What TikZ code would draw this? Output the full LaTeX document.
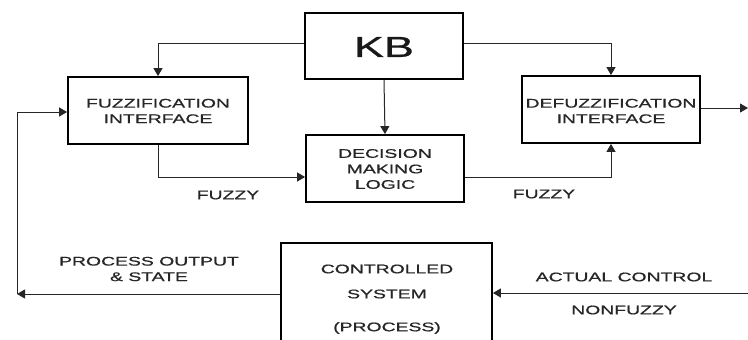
\documentclass[tikz,border=0pt]{standalone}
\usepackage{fontspec}
\newfontfamily\diagfont[FakeStretch=1.55,FakeBold=0.8]{Liberation Sans}
\usetikzlibrary{arrows.meta}
\tikzset{
  blk/.style={draw=black, line width=1.8pt, inner sep=0pt, fill=none},
  conn/.style={draw=black!85, line width=1pt, -{Triangle[length=8pt,width=9pt]}},
  txt/.style={font=\diagfont\fontsize{12.5}{15.5}\selectfont, text=black!85, align=center, inner sep=0pt},
  bigtxt/.style={font=\diagfont\fontsize{29}{33}\selectfont, text=black!90, inner sep=0pt}
}
\begin{document}
\begin{tikzpicture}[x=1pt,y=-1pt]
\useasboundingbox (0,0) rectangle (748,340);
\clip (0,0) rectangle (748,340);
\fill[white] (0,0) rectangle (748,340);
% boxes
\node[blk, minimum width=158pt, minimum height=66pt] (kb) at (384,46) {};
\node[bigtxt] (kbt) at (384,47) {KB};
\node[blk, minimum width=180pt, minimum height=67pt] (fuzz) at (158,110.5) {};
\node[txt] (fuzzt) at (158,111) {FUZZIFICATION\\INTERFACE};
\node[blk, minimum width=158pt, minimum height=67pt] (dec) at (385,168.5) {};
\node[txt] (dect) at (385,169) {DECISION\\MAKING\\LOGIC};
\node[blk, minimum width=178pt, minimum height=67pt] (defuzz) at (611,109.5) {};
\node[txt] (defuzzt) at (611,111) {DEFUZZIFICATION\\INTERFACE};
\node[blk, minimum width=211pt, minimum height=130pt] (cs) at (386.5,308) {};
\node[txt] (cs1) at (387,269) {CONTROLLED};
\node[txt] (cs2) at (387,294) {SYSTEM};
\node[txt] (cs3) at (387,328) {(PROCESS)};
% labels
\node[txt] (fz1) at (228,195) {FUZZY};
\node[txt] (fz2) at (544,194) {FUZZY};
\node[txt] (pos) at (149,269) {PROCESS OUTPUT\\\& STATE};
\node[txt] (acl) at (624,277) {ACTUAL CONTROL};
\node[txt] (nfz) at (624,310) {NONFUZZY};
% coordinates
\coordinate (out) at (748,108);
\coordinate (ac) at (748,293);
\coordinate (pl) at (17,294);
% connectors
\draw[conn] ([yshift=3pt]kb.west) -| (fuzz.north);
\draw[conn] ([yshift=3pt]kb.east) -| (defuzz.north);
\draw[conn] (kb.south) -- (dec.north);
\draw[conn] (fuzz.south) |- ([yshift=-8.5pt]dec.west);
\draw[conn] ([yshift=-8.5pt]dec.east) -| (defuzz.south);
\draw[conn] ([yshift=1.5pt]defuzz.east) -- (out);
\draw[conn] (ac) -- (cs.east |- ac);
\draw[conn] (cs.west |- pl) -- (pl);
\draw[conn] (pl) |- ([yshift=-1.5pt]fuzz.west);
\end{tikzpicture}
\end{document}
